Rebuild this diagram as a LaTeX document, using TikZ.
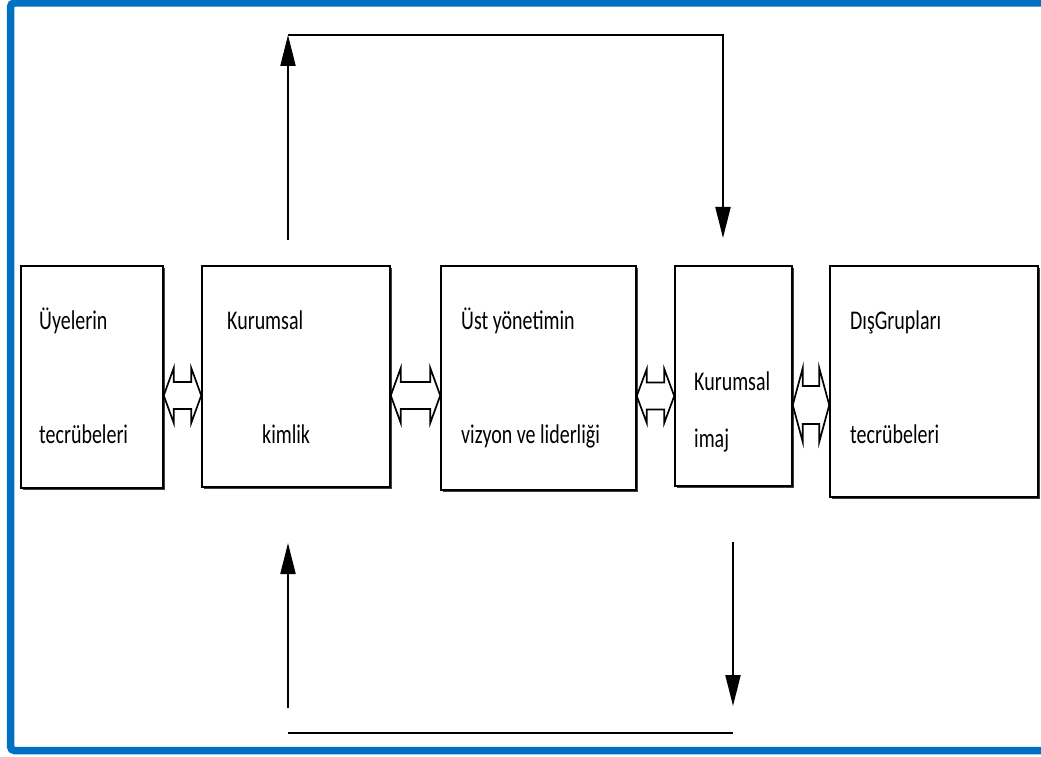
\documentclass[tikz,border=0pt]{standalone}
\usepackage{fontspec}
\setmainfont[FakeStretch=0.74]{Carlito}
\usetikzlibrary{calc,arrows.meta,shadows}
\definecolor{cerceve}{RGB}{0,112,192}

% cift yonlu blok ok: sol dugum, sag dugum, orta y, bas yari yuksekligi, govde yari yuksekligi
\newcommand\ciftok[5]{%
  \draw[blokok] let \p1=(#1.east), \p2=(#2.west) in
    (\x1,#3) -- (\x1+10,#3+#4) -- (\x1+10,#3+#5) -- (\x2-10,#3+#5)
    -- (\x2-10,#3+#4) -- (\x2,#3) -- (\x2-10,#3-#4) -- (\x2-10,#3-#5)
    -- (\x1+10,#3-#5) -- (\x1+10,#3-#4) -- cycle;}

\begin{document}
\begin{tikzpicture}[
  x=1pt,
  y=1pt,
  blok/.style={draw, fill=white, line width=1.5pt, inner sep=0pt,
    general shadow={fill=black!75, shadow xshift=1.8pt, shadow yshift=-1.8pt}},
  yazi/.style={anchor=base west, inner sep=0pt, text=black,
    font=\fontsize{27}{32}\selectfont},
  blokok/.style={draw, fill=white, line width=1.7pt, line join=miter},
  ok/.style={-{Triangle[length=31pt,width=15pt]}, line width=2pt},
  cizgi/.style={line width=2.6pt}
]

% Sayfa ve mavi cerceve (sag kenar sayfanin disinda)
\useasboundingbox (0,0) rectangle (1041,756);
\begin{scope}
  \clip (0,0) rectangle (1041,756);
  \draw[cerceve, line width=7.5pt, rounded corners=4pt]
    (1041,753) -- (10.5,753) -- (10.5,5.5) -- (1041,5.5);
\end{scope}

% Kutular (soldan saga)
\node[blok, minimum width=142, minimum height=222] (uye)    at ( 92  ,379  ) {};
\node[blok, minimum width=188, minimum height=221] (kimlik) at (296  ,379.5) {};
\node[blok, minimum width=195, minimum height=224] (vizyon) at (538.5,378  ) {};
\node[blok, minimum width=117, minimum height=220] (imaj)   at (733.5,380  ) {};
\node[blok, minimum width=208, minimum height=231] (dis)    at (934  ,374.5) {};

% Kutu yazilari
\node[yazi] (uyeA)    at ( 39,426) {Üyelerin};
\node[yazi] (uyeB)    at ( 39,313) {tecrübeleri};
\node[yazi] (kimlikA) at (227,426) {Kurumsal};
\node[yazi] (kimlikB) at (262,313) {kimlik};
\node[yazi] (vizyonA) at (461,426) {Üst yönetimin};
\node[yazi] (vizyonB) at (461,313) {vizyon ve liderliği};
\node[yazi] (imajA)   at (694,366) {Kurumsal};
\node[yazi] (imajB)   at (694,309) {imaj};
\node[yazi] (disA)    at (850,426) {DışGrupları};
\node[yazi] (disB)    at (850,313) {tecrübeleri};

% Kutular arasi cift yonlu oklar
\ciftok{uye}{kimlik}{360.5}{27.5}{13.5}
\ciftok{kimlik}{vizyon}{360.5}{27.5}{13.5}
\ciftok{vizyon}{imaj}{360}{27}{13.5}
\ciftok{imaj}{dis}{351}{37}{19}

% Ust geri besleme
\coordinate (ustBas)   at (288,516);
\coordinate (ustKoseA) at (288,721);
\coordinate (ustKoseB) at (723,721);
\coordinate (ustSon)   at (723,518);
\draw[ok] (ustBas) -- (ustKoseA);
\draw[ok] (ustKoseA) -- (ustKoseB) -- (ustSon);

% Alt geri besleme
\coordinate (altSolBas) at (288, 48);
\coordinate (altSolUc)  at (288,213);
\coordinate (altSagBas) at (733,214);
\coordinate (altSagUc)  at (733, 50);
\coordinate (cizgiSol)  at (288, 23);
\coordinate (cizgiSag)  at (733, 23);
\draw[ok] (altSolBas) -- (altSolUc);
\draw[ok] (altSagBas) -- (altSagUc);
\draw[cizgi] (cizgiSol) -- (cizgiSag);

\end{tikzpicture}
\end{document}
